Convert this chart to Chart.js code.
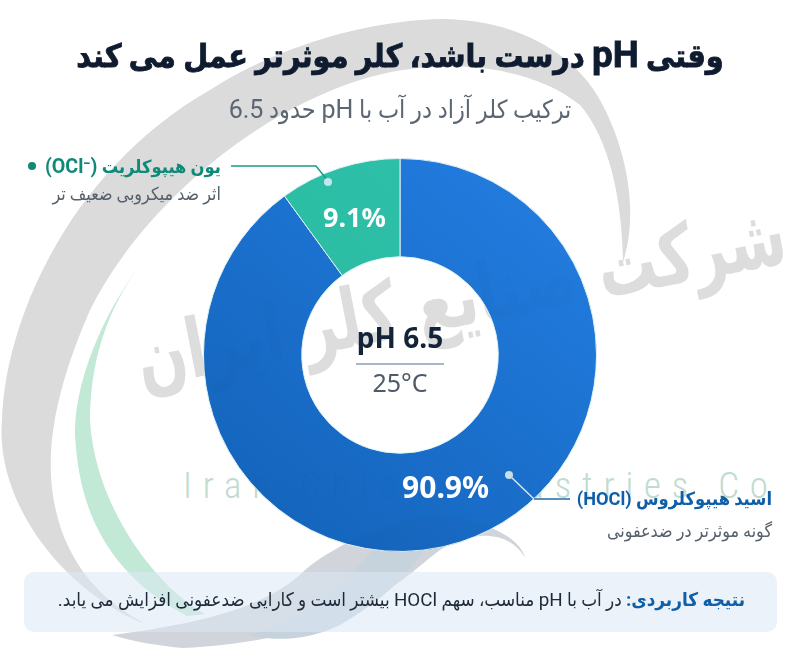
<!DOCTYPE html>
<html lang="fa">
<head>
<meta charset="utf-8">
<script src="https://cdn.jsdelivr.net/npm/chart.js@4"></script>
<style>
  html, body { margin: 0; padding: 0; background: #fff; }
  #page { position: relative; width: 800px; height: 666px; overflow: hidden; background: #fff; font-family: Roboto, "DejaVu Sans", sans-serif; font-stretch: condensed; }
  svg, canvas { position: absolute; left: 0; top: 0; }
  #wmTop { opacity: .14; mix-blend-mode: multiply; }
  .t { position: absolute; white-space: nowrap; direction: rtl; }
  bdi { font-stretch: normal; }
  #title { left: 0; width: 800px; top: 37px; text-align: center; font-size: 32px; font-weight: 700; color: #0f1c30; -webkit-text-stroke: .8px #0f1c30; }
  #title bdi { font-size: 1.15em; line-height: 1; }
  #sub { left: 0; width: 800px; top: 95px; text-align: center; font-size: 25px; color: #5c6672; }
  #box { position: absolute; left: 24px; top: 572px; width: 753px; height: 60px; border-radius: 10px; background: rgba(222,234,245,.62); }
  #note { right: 55px; top: 589px; font-size: 18.8px; color: #1f2a38; }
  #note b { color: #0f5fa8; }
  .name { font-size: 18.2px; font-weight: 700; }
  .desc { font-size: 17.8px; color: #55606c; }
  #dot { position: absolute; left: 28px; top: 162px; width: 8px; height: 8px; border-radius: 50%; background: #0f8a78; }
</style>
</head>
<body>
<div id="page">
  <svg id="wm" width="800" height="666">
    <g id="wmShapes">
      <path d="M147 625 C60 590 -5 500 2 420 C5 320 70 170 210 90 C280 45 370 20 443 19 C520 20 575 55 600 100 C625 145 640 210 623 262 C622 200 610 140 580 105 C530 65 440 55 360 80 C250 115 140 210 90 310 C60 380 30 470 70 550 C90 590 120 610 147 625Z" fill="#dfdfdf"/>
      <path d="M157 245 C115 290 75 370 75 433 C78 500 100 570 187 616 L205 614 C160 590 95 510 90 420 C90 350 115 290 157 245Z" fill="#c8ebda"/>
      <path d="M112 635 C190 625 265 610 305 570 C340 540 420 505 470 520 C500 530 520 540 525 558 C510 530 470 530 440 550 C400 580 350 640 183 648 C160 646 135 642 112 635Z" fill="#d6d9de"/>
      <path d="M250 635 C300 620 340 590 370 553 L400 520 L440 520 C420 560 400 590 340 625 C310 640 275 642 250 635Z" fill="#ccd7e0"/>
      <text transform="translate(790 262) rotate(-11)" text-anchor="start" direction="rtl" font-family="DejaVu Sans" font-weight="700" font-size="82" textLength="660" lengthAdjust="spacingAndGlyphs" fill="#e1e1e1">شرکت صنایع کلر ایران</text>
      <text x="183" y="498" font-family="Roboto" font-weight="300" font-size="37" textLength="585" lengthAdjust="spacing" fill="#c6e0d4">Iran Chlor Industries Co</text>
    </g>
  </svg>
  <div id="box"></div>
  <canvas id="donut" width="800" height="666"></canvas>
  <svg id="wmTop" width="800" height="666"><use href="#wmShapes"/></svg>
  <div id="title" class="t">وقتی <bdi dir="ltr">pH</bdi> درست باشد، کلر موثرتر عمل می کند</div>
  <div id="sub" class="t">ترکیب کلر آزاد در آب با <bdi dir="ltr">pH</bdi> حدود <bdi dir="ltr">6.5</bdi></div>
  <div id="note" class="t"><b>نتیجه کاربردی:</b> در آب با <bdi dir="ltr">pH</bdi> مناسب، سهم <bdi dir="ltr">HOCl</bdi> بیشتر است و کارایی ضدعفونی افزایش می یابد.</div>
  <div class="t name" style="right:579px;top:155px;color:#0f8a78">یون هیپوکلریت <bdi dir="ltr" style="font-size:1.08em">(OCl⁻)</bdi></div>
  <div id="dot"></div>
  <div class="t desc" style="right:579px;top:183px">اثر ضد میکروبی ضعیف تر</div>
  <div class="t name" style="right:28px;top:488px;color:#0f5fa8">اسید هیپوکلروس <bdi dir="ltr">(HOCl)</bdi></div>
  <div class="t desc" style="right:28px;top:520px">گونه موثرتر در ضدعفونی</div>
</div>
<script>
const categories = ['HOCl', 'OCl-'];
// wedge sizes as measured on the picture: the teal wedge spans about 36 degrees
const wedgeShares = [90, 10];
// the percentages printed on the wedges
const printedShares = ['90.9%', '9.1%'];
const labelNudgeY = [-6, 4];
const labelSizes = [30, 27];

const centerLines = ['pH 6.5', '25°C'];

const canvas = document.getElementById('donut');
const ctx = canvas.getContext('2d');
const blue = ctx.createLinearGradient(560, 200, 280, 540);
blue.addColorStop(0, '#227cdf');
blue.addColorStop(1, '#1464bb');
const teal = ctx.createLinearGradient(400, 157, 300, 260);
teal.addColorStop(0, '#2dbfa8');
teal.addColorStop(1, '#2cbda4');

function leader(c, pts, color) {
  c.beginPath();
  c.moveTo(pts[0][0], pts[0][1]);
  pts.slice(1).forEach(p => c.lineTo(p[0], p[1]));
  c.strokeStyle = color;
  c.lineWidth = 1.5;
  c.stroke();
}

function dot(c, x, y, color) {
  c.beginPath();
  c.arc(x, y, 4, 0, Math.PI * 2);
  c.fillStyle = color;
  c.fill();
}

const donutText = {
  id: 'donutText',
  afterDraw(chart) {
    const c = chart.ctx;
    const arcs = chart.getDatasetMeta(0).data;
    c.save();
    // printed shares at the wedge centres
    c.fillStyle = '#fff';
    c.textAlign = 'center';
    c.textBaseline = 'middle';
    arcs.forEach((a, i) => {
      const p = a.tooltipPosition();
      c.font = '700 ' + labelSizes[i] + 'px "Noto Sans"';
      c.fillText(printedShares[i], p.x, p.y + labelNudgeY[i]);
    });
    // hole text
    const cx = arcs[0].x, cy = arcs[0].y;
    c.fillStyle = '#13233a';
    c.font = '700 28px "Noto Sans"';
    c.fillText(centerLines[0], cx, cy - 15);
    c.fillStyle = '#4f5b69';
    c.font = '400 25px "Noto Sans"';
    c.fillText(centerLines[1], cx, cy + 30);
    leader(c, [[356, 364], [444, 364]], '#8e9abb');
    // callouts
    leader(c, [[231, 166], [316, 166], [328, 181]], '#1b9a88');
    dot(c, 328, 182, '#c4e6ee');
    leader(c, [[509, 475], [534, 499]], '#d5e7f2');
    leader(c, [[534, 499], [570, 499]], '#1b6aa8');
    dot(c, 509, 475, '#c8dfe8');
    c.restore();
  }
};

new Chart(canvas, {
  type: 'doughnut',
  data: {
    labels: categories,
    datasets: [{ data: wedgeShares, backgroundColor: [blue, teal], borderColor: '#dff1f3', borderWidth: 1 }]
  },
  options: {
    responsive: false,
    animation: false,
    cutout: '50%',
    layout: { padding: { top: 158, bottom: 114 } },
    plugins: { legend: { display: false }, tooltip: { enabled: false } }
  },
  plugins: [donutText]
});
</script>
</body>
</html>
